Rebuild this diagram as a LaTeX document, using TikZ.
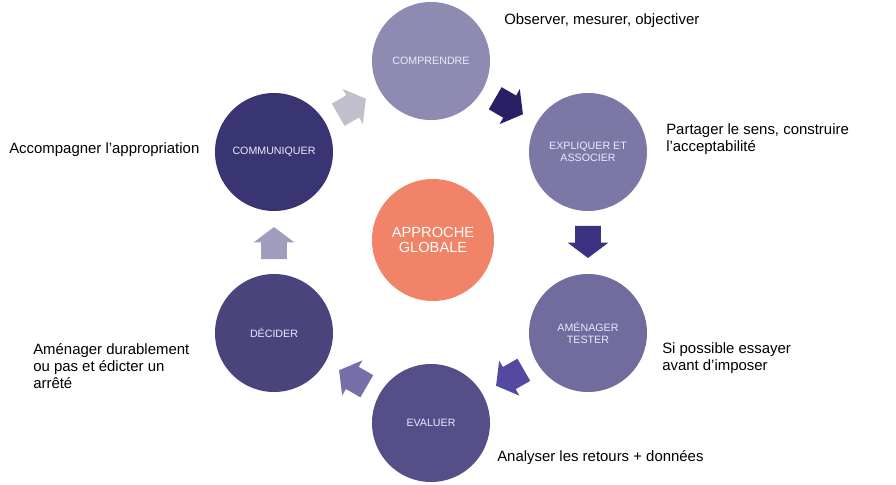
\documentclass[tikz,border=0pt]{standalone}
\usepackage{fontspec}
\setmainfont{Liberation Sans}
\usepackage{tikz}
\usetikzlibrary{positioning}
\usetikzlibrary{calc,shapes.arrows}
\definecolor{compC}{RGB}{142,139,178}
\definecolor{explC}{RGB}{123,120,166}
\definecolor{amenC}{RGB}{113,108,158}
\definecolor{evalC}{RGB}{84,79,136}
\definecolor{deciC}{RGB}{74,68,125}
\definecolor{commC}{RGB}{57,52,114}
\definecolor{globC}{RGB}{240,131,104}
\definecolor{arrA}{RGB}{40,32,100}
\definecolor{arrB}{RGB}{58,50,128}
\definecolor{arrC}{RGB}{82,74,160}
\definecolor{arrD}{RGB}{118,112,170}
\definecolor{arrE}{RGB}{160,158,190}
\definecolor{arrF}{RGB}{192,192,204}
\colorlet{labelc}{white!92!blue}

\tikzset{
  stage/.style={circle, minimum size=88.5pt, inner sep=0pt, align=center,
    text=labelc, font=\fontsize{8pt}{8.8pt}\selectfont},
  bigarrow/.style={single arrow, minimum height=24pt,
    inner xsep=0pt, inner ysep=9.4pt,
    single arrow head extend=5.6pt, single arrow head indent=0pt,
    single arrow tip angle=106, rotate=#1, xshift=-4pt},
  sidetext/.style={anchor=west, align=left, inner sep=0pt,
    font=\fontsize{11.2pt}{12.9pt}\selectfont}
}

\begin{document}
\begin{tikzpicture}[x=0.75pt,y=-0.75pt]
\useasboundingbox (0,0) rectangle (896,485);

\node[stage, fill=compC] (comprendre) at (431,61) {COMPRENDRE};
\node[stage, fill=explC] (expliquer) at (588,152) {EXPLIQUER ET\\ASSOCIER};
\node[stage, fill=amenC] (amenager) at (588,333) {AMÉNAGER\\TESTER};
\node[stage, fill=evalC] (evaluer) at (431,423) {EVALUER};
\node[stage, fill=deciC] (decider) at (274,333) {DÉCIDER};
\node[stage, fill=commC] (communiquer) at (274,152) {COMMUNIQUER};
\node[stage, fill=globC, minimum size=91.5pt, text=white,
  font=\fontsize{11pt}{11.8pt}\selectfont] (globale) at (433,240) {APPROCHE\\GLOBALE};

\node[bigarrow=-30, fill=arrA] (arr1) at ($(comprendre)!0.5!(expliquer)$) {};
\node[bigarrow=-90, fill=arrB] (arr2) at ($(expliquer)!0.5!(amenager)$) {};
\node[bigarrow=-150, fill=arrC] (arr3) at ($(amenager)!0.5!(evaluer)$) {};
\node[bigarrow=150, fill=arrD] (arr4) at ($(evaluer)!0.5!(decider)$) {};
\node[bigarrow=90, fill=arrE] (arr5) at ($(decider)!0.5!(communiquer)$) {};
\node[bigarrow=30, fill=arrF] (arr6) at ($(communiquer)!0.5!(comprendre)$) {};

\node[sidetext] (obs) at (504,21) {\color{black} Observer, mesurer, objectiver};
\node[sidetext] (partager) at (666,139.5) {\color{black} Partager le sens, construire\\l’acceptabilité};
\node[sidetext] (essayer) at (662,358.5) {\color{black} Si possible essayer\\avant d’imposer};
\node[sidetext] (analyser) at (497,458) {\color{black} Analyser les retours + données};
\node[sidetext] (durable) at (33,366) {\color{black} Aménager durablement\\ou pas et édicter un\\arrêté};
\node[sidetext] (accomp) at (9,150) {\color{black} Accompagner l’appropriation};

\end{tikzpicture}
\end{document}
